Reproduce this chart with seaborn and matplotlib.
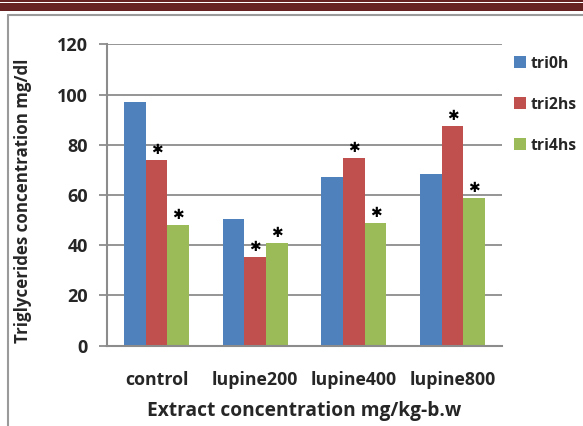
import matplotlib
matplotlib.use("Agg")
import matplotlib.pyplot as plt
import seaborn as sns
import pandas as pd
from matplotlib.patches import Rectangle
from matplotlib.lines import Line2D

categories = ["control", "lupine200", "lupine400", "lupine800"]
series = ["tri0h", "tri2hs", "tri4hs"]
tri0h = [97.0, 50.6, 67.3, 68.4]
tri2hs = [73.8, 35.3, 74.9, 87.6]
tri4hs = [48.0, 40.8, 48.9, 58.7]
stars = {"tri0h": [False, False, False, False],
         "tri2hs": [True, True, True, True],
         "tri4hs": [True, True, True, True]}
colors = ["#4F81BD", "#C0504D", "#9BBB59"]

rows = []
for s, vals in zip(series, [tri0h, tri2hs, tri4hs]):
    for c, v in zip(categories, vals):
        rows.append({"category": c, "series": s, "value": v})
df = pd.DataFrame(rows)

sns.set_theme(style="white")
plt.rcParams["font.family"] = ["Open Sans", "DejaVu Sans"]

fig = plt.figure(figsize=(5.83, 4.26), dpi=100)
ax = fig.add_axes([0.184, 0.1885, 0.6766, 0.7073])

sns.barplot(data=df, x="category", y="value", hue="series", order=categories,
            hue_order=series, palette=colors, width=0.66, saturation=1,
            edgecolor="none", ax=ax, legend=True)

ax.set_ylim(0, 120)
ax.set_xlim(-0.5, 3.5)
ax.set_yticks(range(0, 121, 20))
ax.yaxis.grid(True, color="#8c8c8c", linewidth=1.3)
ax.set_axisbelow(True)
for sp in ["top", "right"]:
    ax.spines[sp].set_visible(False)
for sp in ["left", "bottom"]:
    ax.spines[sp].set_color("#8c8c8c")
    ax.spines[sp].set_linewidth(1.5)
ax.tick_params(axis="y", which="both", left=True, length=6, width=1.3,
               color="#8c8c8c", pad=8, labelsize=13)
ax.tick_params(axis="x", bottom=False, pad=12, labelsize=12.8)
for lbl in ax.get_yticklabels() + ax.get_xticklabels():
    lbl.set_fontweight("bold")

ax.set_ylabel("Triglycerides concentration mg/dl", fontsize=12.2, fontweight="bold")
ax.yaxis.set_label_coords(-0.19, 0.48)
ax.set_xlabel("Extract concentration mg/kg-b.w", fontsize=13.8, fontweight="bold")
ax.xaxis.set_label_coords(0.5, -0.185)

# stars above bars
for cont, s in zip(ax.containers, series):
    for bar, flag in zip(cont, stars[s]):
        if flag:
            ax.text(bar.get_x() + bar.get_width() / 2, bar.get_height() + 1.2, "\u2731",
                    ha="center", va="bottom", fontsize=10, color="black",
                    family="DejaVu Sans")

ax.legend(loc="upper left", bbox_to_anchor=(0.995, 1.01), frameon=False,
          handlelength=0.8, handleheight=0.8, handletextpad=0.25,
          labelspacing=1.6, prop={"weight": "bold", "size": 11.3})

# decorative frame and header band
fig.patches.append(Rectangle((0, 1 - 11 / 426), 1, 11 / 426, transform=fig.transFigure,
                             facecolor="#662222", edgecolor="none", zorder=0))
fig.patches.append(Rectangle((0, 1 - 3.2 / 426), 1, 1.2 / 426, transform=fig.transFigure,
                             facecolor="white", edgecolor="none", zorder=1))
fig.lines.append(Line2D([7.5 / 583, 7.5 / 583], [0, 1 - 15 / 426], transform=fig.transFigure,
                        color="#9a9a9a", linewidth=1.5))
fig.lines.append(Line2D([7.5 / 583, 1], [1 - 15 / 426, 1 - 15 / 426], transform=fig.transFigure,
                        color="#9a9a9a", linewidth=1.5))

fig.savefig("out.png", dpi=100)
